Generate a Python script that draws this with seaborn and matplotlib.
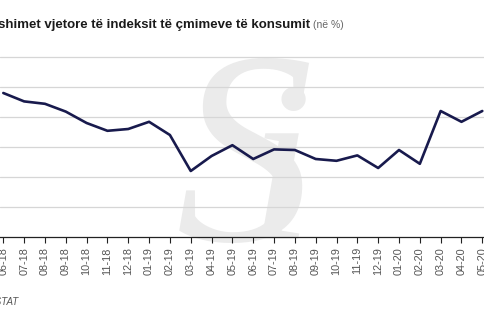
import matplotlib
matplotlib.use("Agg")
import matplotlib.pyplot as plt
import seaborn as sns
import pandas as pd

# Annual change of the consumer price index, monthly (%)
months = ["06-18", "07-18", "08-18", "09-18", "10-18", "11-18", "12-18",
          "01-19", "02-19", "03-19", "04-19", "05-19", "06-19", "07-19",
          "08-19", "09-19", "10-19", "11-19", "12-19", "01-20", "02-20",
          "03-20", "04-20", "05-20"]
inflation = [2.40, 2.26, 2.22, 2.09, 1.90, 1.77, 1.80, 1.92, 1.70, 1.10,
             1.35, 1.53, 1.30, 1.46, 1.45, 1.30, 1.27, 1.36, 1.15, 1.45,
             1.22, 2.10, 1.92, 2.10]
grid_levels = [0.5, 1.0, 1.5, 2.0, 2.5, 3.0]

title_main = "Ndryshimet vjetore të indeksit të çmimeve të konsumit"
title_unit = "(në %)"
source = "Burimi: INSTAT"

sns.set_theme(style="white")
plt.rcParams["font.family"] = ["Liberation Sans Narrow", "Liberation Sans", "DejaVu Sans"]

df = pd.DataFrame({"pos": range(len(months)), "value": inflation})

W, H = 485, 325
fig = plt.figure(figsize=(W / 100, H / 100), dpi=100)

# faint logo behind the chart
fig.text(176 / W, 1 - 240 / H, "S", fontsize=198, family="Liberation Serif",
         style="italic", color="#ebebeb", ha="left", va="baseline", zorder=0)
fig.text(248 / W, 1 - 238 / H, "i", fontsize=165, family="Liberation Serif",
         style="italic", color="#ebebeb", ha="left", va="baseline", zorder=0)

ax = fig.add_axes([0, (H - 237) / H, 1, (237 - 50) / H])
ax.set_zorder(2)
ax.set_facecolor("none")

for g in grid_levels:
    ax.axhline(g, color="#d6d6d6", lw=0.9, zorder=1)

sns.lineplot(data=df, x="pos", y="value", ax=ax, color="#181a4d",
             lw=1.9, zorder=3)

step = 479 / 23
ax.set_xlim(-3.3 / step, 23 + (W - 482.3) / step)
ax.set_ylim(0, (237 - 50) / 60)
ax.set_xticks(range(len(months)))
ax.set_xticklabels(months, rotation=90, fontsize=7.8, color="#555555")
ax.set_yticks([])
ax.set_xlabel("")
ax.set_ylabel("")
ax.tick_params(axis="x", which="major", direction="out", length=4.3,
               width=0.8, color="#222222", pad=3, bottom=True)
for side in ["top", "left", "right"]:
    ax.spines[side].set_visible(False)
ax.spines["bottom"].set_color("#222222")
ax.spines["bottom"].set_linewidth(0.9)

fig.text(310 / W, 1 - 28 / H, title_main, fontsize=9.5, fontweight="bold",
         color="#1a1a1a", ha="right", va="baseline")
fig.text(313 / W, 1 - 28 / H, title_unit, fontsize=7.5, color="#666666",
         ha="left", va="baseline")
fig.text(18 / W, 1 - 305 / H, source, fontsize=7, style="italic",
         color="#555555", ha="right", va="baseline")

fig.savefig("out.png", dpi=100)
